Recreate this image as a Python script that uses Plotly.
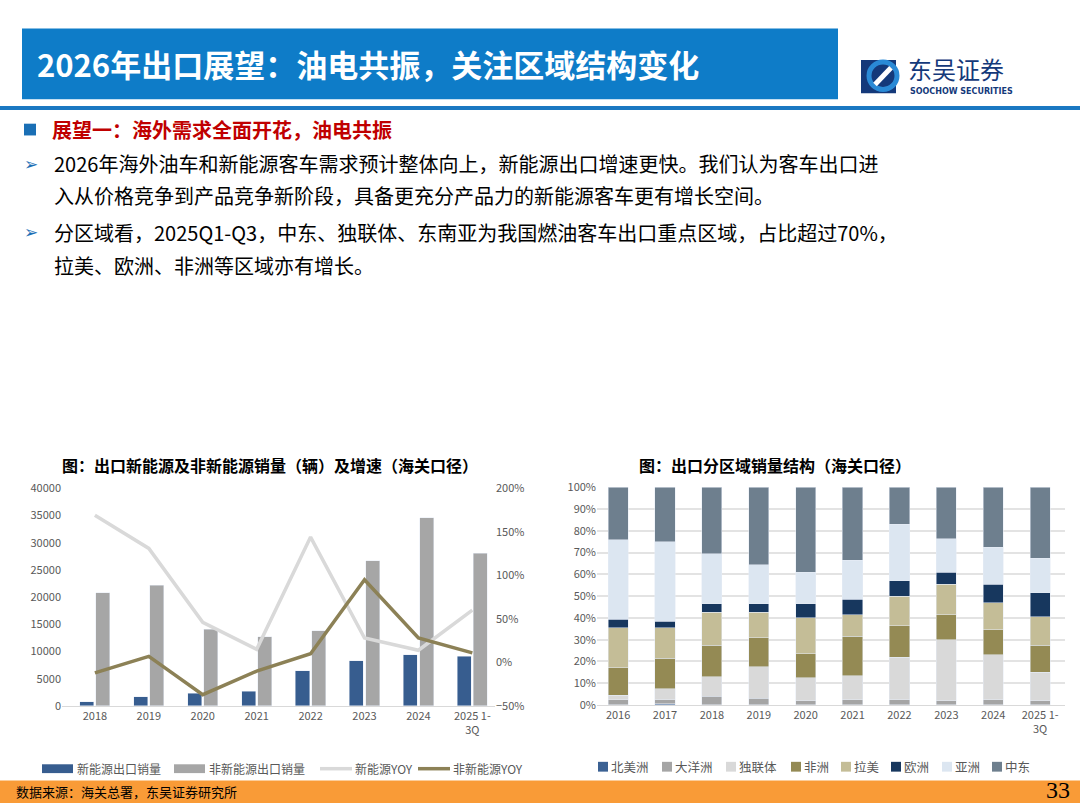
import plotly.graph_objects as go

W, H = 1080, 810
years_l = ["2018", "2019", "2020", "2021", "2022", "2023", "2024", "2025 1-<br>3Q"]
nev = [800, 1700, 2300, 2700, 6500, 8300, 9400, 9100]
non_nev = [20800, 22200, 14100, 12700, 13800, 26700, 34600, 28100]
nev_yoy = [169, 131, 46, 15, 144, 28, 14, 60]
non_yoy = [-12, 7, -37, -10, 10, 95, 28, 11]

years_r = ["2016", "2017", "2018", "2019", "2020", "2021", "2022", "2023", "2024", "2025 1-<br>3Q"]
regions = ["北美洲", "大洋洲", "独联体", "非洲", "拉美", "欧洲", "亚洲", "中东"]
shares = {
    "北美洲": [0, 0.5, 0, 0, 0, 0, 0, 0, 0, 0],
    "大洋洲": [2.5, 2, 4, 3, 2, 2.5, 2.5, 2, 2.5, 2],
    "独联体": [2, 5, 9, 14.5, 10.5, 11, 19.5, 28, 20.5, 13],
    "非洲": [12.5, 14, 14.5, 13.5, 11, 18, 14.5, 11.5, 11.5, 12.5],
    "拉美": [18.5, 14, 15, 11.5, 16.5, 10, 13.5, 14, 12.5, 13],
    "欧洲": [4, 3, 4, 4, 6.5, 7, 7, 5.5, 8.5, 11],
    "亚洲": [36.5, 36.5, 23, 18, 14.5, 18, 26, 15.5, 17, 16],
    "中东": [24, 25, 30.5, 35.5, 39, 33.5, 17, 23.5, 27.5, 32.5],
}
colors = {"北美洲": "#3b6193", "大洋洲": "#a5a5a5", "独联体": "#d9d9d9", "非洲": "#948a54",
          "拉美": "#c4bd97", "欧洲": "#17375e", "亚洲": "#dce6f1", "中东": "#6e7f8e"}

FONT = "Noto Sans CJK SC"
fig = go.Figure()

C_NEV, C_NON, C_NEVY, C_NONY = "#375d8f", "#a6a6a6", "#d9d9d9", "#8c8156"
fig.add_bar(x=years_l, y=nev, name="新能源出口销量", marker_color=C_NEV,
            width=0.26, offset=-0.28, xaxis="x", yaxis="y")
fig.add_bar(x=years_l, y=non_nev, name="非新能源出口销量", marker_color=C_NON,
            width=0.26, offset=0.02, xaxis="x", yaxis="y2")
fig.add_scatter(x=years_l, y=nev_yoy, name="新能源YOY", mode="lines",
                line=dict(color=C_NEVY, width=3.5), xaxis="x", yaxis="y3")
fig.add_scatter(x=years_l, y=non_yoy, name="非新能源YOY", mode="lines",
                line=dict(color=C_NONY, width=3.5), xaxis="x", yaxis="y3")

for r in regions:
    fig.add_bar(x=years_r, y=shares[r], name=r, marker_color=colors[r], width=0.43,
                xaxis="x2", yaxis="y4")

tick = dict(size=11, color="#595959", family=FONT)
ydom = [(810 - 711) / H, (810 - 489) / H]
ydom_r = [(810 - 710) / H, (810 - 488) / H]

def px_rect(x0, x1, y0, y1, color, **kw):
    return dict(type="rect", xref="paper", yref="paper", x0=x0/W, x1=x1/W, y0=1-y1/H, y1=1-y0/H,
                fillcolor=color, line_width=0, **kw)

shapes = [
    px_rect(22, 838, 20, 92, "#0e7cc8", layer="below"),
    px_rect(0, 1080, 99, 103, "#1a78c2"),
    px_rect(0, 1080, 787, 810, "#f99b37", layer="below"),
    px_rect(24, 36, 117, 129, "#1a6fb5"),
    px_rect(861, 896, 52, 86, "#14397a"),
    dict(type="circle", xref="paper", yref="paper", x0=869/W, x1=897/W, y0=1-82/H, y1=1-54/H,
         fillcolor="rgba(0,0,0,0)", line=dict(color="#2a8ad6", width=5)),
    dict(type="line", xref="paper", yref="paper", x0=875/W, x1=891/W, y0=1-77/H, y1=1-60/H,
         line=dict(color="white", width=5)),
]

ann = [
    dict(x=35/W, y=1-56/H, text="<b>2026年出口展望：油电共振，关注区域结构变化</b>", xanchor="left",
         font=dict(size=31, color="white", family=FONT)),
    dict(x=906/W, y=1-61/H, text="东吴证券", xanchor="left", font=dict(size=24, color="#14397a", family=FONT)),
    dict(x=908/W, y=1-84/H, text="<b>SOOCHOW SECURITIES</b>", xanchor="left",
         font=dict(size=8, color="#14397a", family="DejaVu Sans")),
    dict(x=50/W, y=1-123/H, text="<b>展望一：海外需求全面开花，油电共振</b>", xanchor="left",
         font=dict(size=20, color="#c00000", family=FONT)),
    dict(x=22/W, y=1-158/H, text="➢", xanchor="left", font=dict(size=17, color="#1a6fb5", family="DejaVu Sans")),
    dict(x=52/W, y=1-158/H, text="2026年海外油车和新能源客车需求预计整体向上，新能源出口增速更快。我们认为客车出口进",
         xanchor="left", font=dict(size=20, color="black", family=FONT)),
    dict(x=52/W, y=1-190/H, text="入从价格竞争到产品竞争新阶段，具备更充分产品力的新能源客车更有增长空间。",
         xanchor="left", font=dict(size=20, color="black", family=FONT)),
    dict(x=22/W, y=1-228/H, text="➢", xanchor="left", font=dict(size=17, color="#1a6fb5", family="DejaVu Sans")),
    dict(x=52/W, y=1-228/H, text="分区域看，2025Q1-Q3，中东、独联体、东南亚为我国燃油客车出口重点区域，占比超过70%，",
         xanchor="left", font=dict(size=20, color="black", family=FONT)),
    dict(x=52/W, y=1-262/H, text="拉美、欧洲、非洲等区域亦有增长。",
         xanchor="left", font=dict(size=20, color="black", family=FONT)),
    dict(x=270/W, y=1-465/H, text="<b>图：出口新能源及非新能源销量（辆）及增速（海关口径）</b>", xanchor="center",
         font=dict(size=16, color="black", family=FONT)),
    dict(x=775/W, y=1-465/H, text="<b>图：出口分区域销量结构（海关口径）</b>", xanchor="center",
         font=dict(size=16, color="black", family=FONT)),
    dict(x=14/W, y=1-798/H, text="数据来源：海关总署，东吴证券研究所", xanchor="left",
         font=dict(size=13, color="black", family=FONT)),
    dict(x=1072/W, y=1-797/H, text="33", xanchor="right",
         font=dict(size=24, color="black", family="Liberation Serif")),
]

LY = 775
leg1 = [("新能源出口销量", C_NEV, "rect", 42), ("非新能源出口销量", C_NON, "rect", 174),
        ("新能源YOY", C_NEVY, "line", 320), ("非新能源YOY", C_NONY, "line", 418)]
for name, col, kind, x0 in leg1:
    if kind == "rect":
        shapes.append(px_rect(x0, x0 + 31, LY - 4.5, LY + 4.5, col))
    else:
        shapes.append(dict(type="line", xref="paper", yref="paper", x0=x0/W, x1=(x0+32)/W,
                           y0=1-LY/H, y1=1-LY/H, line=dict(color=col, width=3.5)))
    ann.append(dict(x=(x0 + 33)/W, y=1-LY/H, text=name, xanchor="left",
                    font=dict(size=12, color="#595959", family=FONT)))

LY2 = 773
leg2_x = [598, 662, 726, 791, 841, 891, 942, 992]
for r, x0 in zip(regions, leg2_x):
    shapes.append(px_rect(x0, x0 + 10, LY2 - 5, LY2 + 5, colors[r]))
    ann.append(dict(x=(x0 + 11)/W, y=1-LY2/H, text=r, xanchor="left",
                    font=dict(size=12.5, color="#595959", family=FONT)))

for a in ann:
    a.update(xref="paper", yref="paper", showarrow=False, yanchor="middle")

fig.update_layout(
    width=W, height=H, margin=dict(l=0, r=0, t=0, b=0),
    paper_bgcolor="white", plot_bgcolor="white", barmode="stack",
    font=dict(family=FONT), showlegend=False,
    xaxis=dict(domain=[62/W, 495/W], range=[-0.61, 7.42], tickfont=tick, showline=True,
               linecolor="#d9d9d9", ticks="", showgrid=False),
    yaxis=dict(domain=ydom, range=[0, 40000], dtick=5000, tickfont=tick, showgrid=False,
               zeroline=False, ticks="", tickformat="d"),
    yaxis2=dict(overlaying="y", range=[0, 40000], visible=False),
    yaxis3=dict(overlaying="y", side="right", range=[-50, 200], dtick=50, ticksuffix="%",
                tickfont=tick, showgrid=False, zeroline=False, anchor="x"),
    xaxis2=dict(domain=[597/W, 1065/W], range=[-0.45, 9.53], tickfont=tick, showline=True,
                linecolor="#d9d9d9", ticks="", showgrid=False, anchor="y4"),
    yaxis4=dict(domain=ydom_r, range=[0, 100], dtick=10, ticksuffix="%", tickfont=tick,
                showgrid=True, gridcolor="#e3e3e3", gridwidth=1.5, zeroline=False, anchor="x2"),
    shapes=shapes, annotations=ann,
)
fig.write_html("out.html", config={"displayModeBar": False, "responsive": False},
               post_script="document.documentElement.style.margin='0';document.body.style.margin='0';"
                           "document.body.style.padding='0';document.body.style.overflow='hidden';")
